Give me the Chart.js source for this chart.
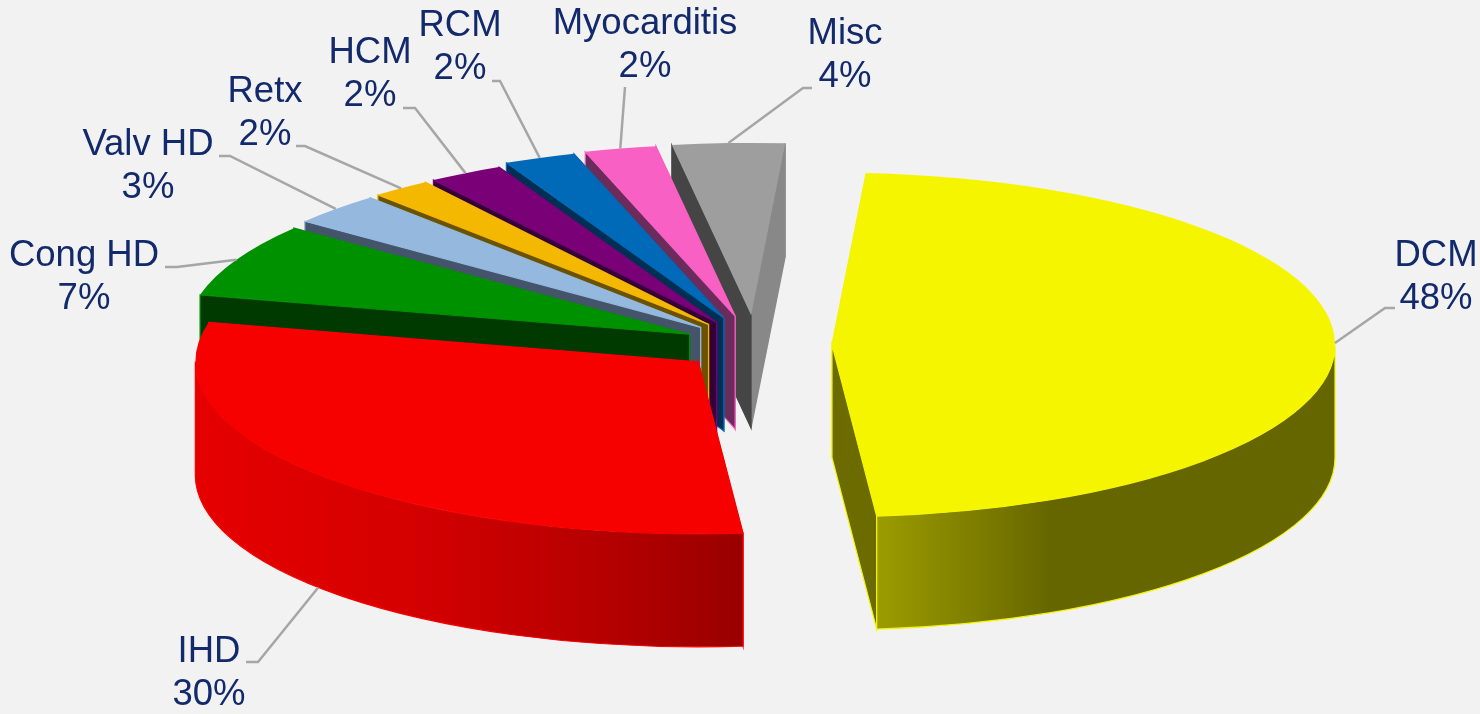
<!DOCTYPE html>
<html>
<head>
<meta charset="utf-8">
<script src="https://cdn.jsdelivr.net/npm/chart.js@4"></script>
<style>html,body{margin:0;padding:0;background:#f2f2f2;overflow:hidden}canvas{display:block}</style>
</head>
<body>
<canvas id="c" width="1480" height="714"></canvas>
<script>
const categories = ['DCM','IHD','Cong HD','Valv HD','Retx','HCM','RCM','Myocarditis','Misc'];
const shares = [47.5,30.1,6.9,3.0,1.9,2.4,2.3,2.3,3.6];
const explode = [77,75,72.5,75,76,77,85,87,88];
const topColors = ['#f5f500','#f70000','#009100','#95b9de','#f5b800','#7a0078','#0069b8','#f860c4','#9e9e9e'];
const startWallColors = ['#6b6b00','#990000','#003a00','#44546a','#6b5200','#35003a','#002f54','#6b2b5b','#454545'];
const endWallColors = ['#6b6b00','#990000','#003a00','#44546a','#6b5200','#35003a','#002f54','#6b2b5b','#888888'];
const rimGradients = [
  [[0,'#9c9c00'],[0.38,'#666600'],[1,'#666600']],
  [[0,'#e60000'],[0.4,'#d40000'],[0.75,'#b50000'],[1,'#990000']],
  null,null,null,null,null,null,null
];
const labelCentres = [[1436,256],[209,652],[84,256],[148,145],[265,92],[370,53],[460,26],[645,24],[845,34]];
const leaderElbows = [[[1385,308],[1395,308]],[[258,662],[246,662]],[[177,267],[165,267]],[[230,156],[219,156]],[[305,146],[296,146]],[[415,108],[403,108]],[[500,81],[492,81]],[[625,87]],[[803,88],[812,88]]];
const leaderFromBase = [false,true,false,false,false,false,false,false,false];

const RX = 503, RY = 172, DEPTH = 113, CX = 755, CY = 345;
const TEXT = '#12296b', LINE = '#a6a6a6', FONT = '36.5px "Liberation Sans", Arial, sans-serif', LINE_GAP = 43;

function geom(arc,i){
  const mid = (arc.startAngle+arc.endAngle)/2;
  return {mid,ax:CX+Math.cos(mid)*explode[i], ay:CY+Math.sin(mid)*explode[i]*RY/RX, a:arc.startAngle, b:arc.endAngle};
}
function radialWall(ctx,g,ang,color,edge){
  const x=g.ax+RX*Math.cos(ang), y=g.ay+RY*Math.sin(ang);
  ctx.beginPath();
  ctx.moveTo(g.ax,g.ay);ctx.lineTo(x,y);ctx.lineTo(x,y+DEPTH);ctx.lineTo(g.ax,g.ay+DEPTH);ctx.closePath();
  ctx.fillStyle=color;ctx.fill();
  ctx.strokeStyle=edge;ctx.lineWidth=1.2;ctx.stroke();
}
function rimWall(ctx,g,i,edge){
  const tau=Math.PI*2;
  for(const k of [-1,0,1]){
    const a=Math.max(g.a,k*tau), b=Math.min(g.b,k*tau+Math.PI);
    if(b<=a) continue;
    ctx.beginPath();
    ctx.ellipse(g.ax,g.ay,RX,RY,0,a,b,false);
    ctx.ellipse(g.ax,g.ay+DEPTH,RX,RY,0,b,a,true);
    ctx.closePath();
    const x1=g.ax+RX*Math.cos(a), x2=g.ax+RX*Math.cos(b);
    let left=Math.min(x1,x2), right=Math.max(x1,x2);
    if(a<k*tau+Math.PI && b>=k*tau+Math.PI) left=g.ax-RX;
    if(a<=k*tau) right=g.ax+RX;
    let fill=startWallColors[i];
    if(rimGradients[i]){
      fill=ctx.createLinearGradient(left,0,right,0);
      rimGradients[i].forEach(s=>fill.addColorStop(s[0],s[1]));
    }
    ctx.fillStyle=fill;ctx.fill();
    ctx.strokeStyle=edge;ctx.lineWidth=1.2;ctx.stroke();
  }
}
const pie3d = {
  id:'pie3d',
  beforeDatasetsDraw(chart){
    const ctx=chart.ctx, arcs=chart.getDatasetMeta(0).data;
    for(let i=arcs.length-1;i>=0;i--){
      const arc=arcs[i], g=geom(arc,i);
      ctx.save();
      const edge=i===8?null:topColors[i];
      const walls=[[g.a,startWallColors[i]],[g.b,endWallColors[i]]]
        .sort((p,q)=>Math.sin(p[0])-Math.sin(q[0]));
      walls.forEach(w=>radialWall(ctx,g,w[0],w[1],edge||w[1]));
      rimWall(ctx,g,i,topColors[i]);
      ctx.translate(g.ax,g.ay);ctx.scale(RX/arc.outerRadius,RY/arc.outerRadius);
      ctx.translate(-arc.x,-arc.y);
      arc.draw(ctx);
      ctx.restore();
    }
    return false;
  },
  afterDraw(chart){
    const ctx=chart.ctx, arcs=chart.getDatasetMeta(0).data, total=shares.reduce((p,v)=>p+v,0);
    ctx.save();
    arcs.forEach((arc,i)=>{
      const g=geom(arc,i);
      const sxp=g.ax+RX*Math.cos(g.mid), syp=g.ay+RY*Math.sin(g.mid)+(leaderFromBase[i]?DEPTH:0);
      ctx.beginPath();ctx.moveTo(sxp,syp);
      leaderElbows[i].forEach(p=>ctx.lineTo(p[0],p[1]));
      ctx.strokeStyle=LINE;ctx.lineWidth=2.5;ctx.stroke();
      ctx.fillStyle=TEXT;ctx.font=FONT;ctx.textAlign='center';ctx.textBaseline='middle';
      ctx.fillText(categories[i],labelCentres[i][0],labelCentres[i][1]);
      ctx.fillText(Math.round(shares[i]/total*100)+'%',labelCentres[i][0],labelCentres[i][1]+LINE_GAP);
    });
    ctx.restore();
  }
};
new Chart(document.getElementById('c'),{
  type:'pie',
  data:{labels:categories,datasets:[{data:shares,backgroundColor:topColors,borderWidth:0,hoverOffset:0}]},
  options:{
    responsive:false,animation:false,rotation:3.9,radius:300,
    plugins:{legend:{display:false},tooltip:{enabled:false}},
    events:[]
  },
  plugins:[pie3d]
});
</script>
</body>
</html>
